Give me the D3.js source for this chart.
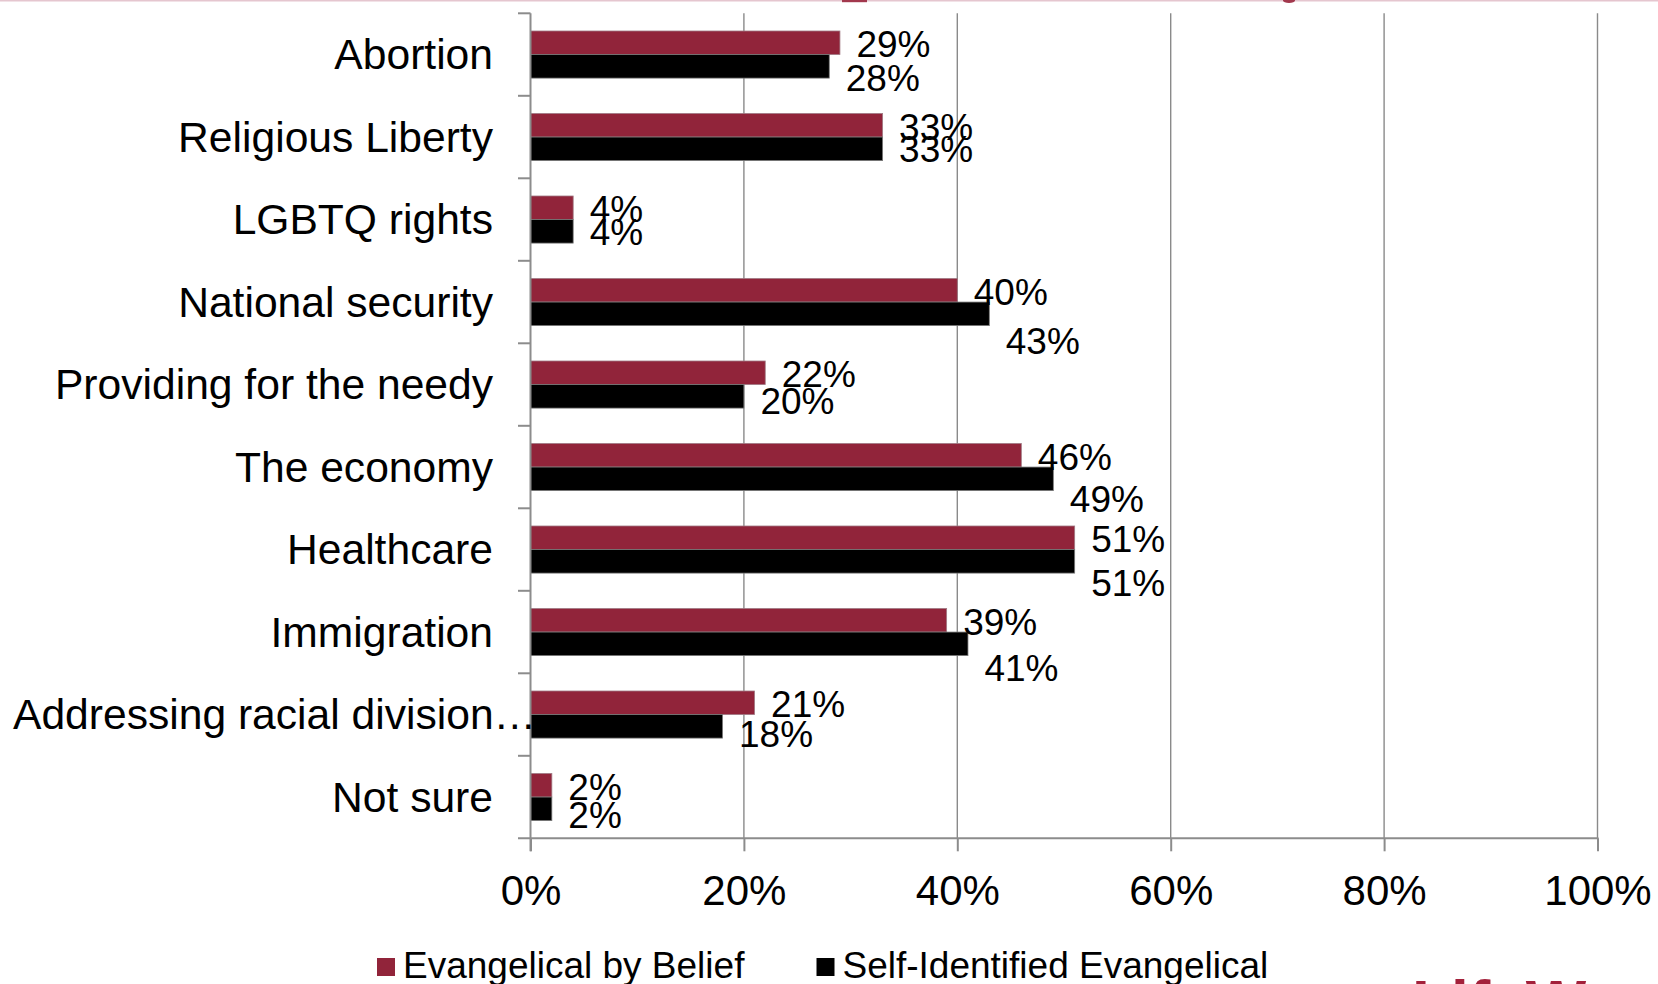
<!DOCTYPE html>
<html>
<head>
<meta charset="utf-8">
<script src="https://cdn.jsdelivr.net/npm/d3@7"></script>
<style>
  html, body { margin: 0; padding: 0; background: #ffffff; }
  svg { display: block; }
  text { font-family: "Liberation Sans", Arial, sans-serif; fill: #000; }
</style>
</head>
<body>
<svg id="chart" width="1658" height="984"></svg>
<script>
// Issue priorities, share of respondents (%)
const categories = [
  "Abortion",
  "Religious Liberty",
  "LGBTQ rights",
  "National security",
  "Providing for the needy",
  "The economy",
  "Healthcare",
  "Immigration",
  "Addressing racial division…",
  "Not sure"
];
const byBelief       = [29, 33, 4, 40, 22, 46, 51, 39, 21, 2];
const selfIdentified = [28, 33, 4, 43, 20, 49, 51, 41, 18, 2];
const seriesNames = ["Evangelical by Belief", "Self-Identified Evangelical"];
const xTicks = [0, 20, 40, 60, 80, 100];

// hand-placed vertical nudges (px) for the second series' value labels
const selfLabelShift = [11, 0, 0, 27, 4, 20, 21, 24, 7, 6];

const W = 1658, H = 984;
const plot = { left: 530.5, right: 1597.5, top: 13.3, bottom: 838.3 };
const colors = ["#91243a", "#000000"];
const gridColor = "#8a8a8a";

const svg = d3.select("#chart");

// banner remnants along the top edge
svg.append("rect").attr("x", 0).attr("y", 0).attr("width", W).attr("height", 1.5)
  .attr("fill", "#e5c6cf");
svg.append("rect").attr("x", 842).attr("y", 0).attr("width", 25).attr("height", 2.2)
  .attr("fill", "#a2384d");
svg.append("ellipse").attr("cx", 1289).attr("cy", 0.5).attr("rx", 6).attr("ry", 2.5)
  .attr("fill", "#a2384d");

const x = d3.scaleLinear().domain([0, 100]).range([plot.left, plot.right]);
const y = d3.scaleBand().domain(categories).range([plot.top, plot.bottom]).padding(0);
const bw = y.bandwidth();
const ySub = d3.scaleBand().domain([0, 1]).range([bw * 0.2145, bw * (1 - 0.2145)]).padding(0);

// vertical gridlines
svg.append("g").selectAll("line")
  .data(xTicks.filter(d => d > 0))
  .join("line")
  .attr("x1", d => x(d)).attr("x2", d => x(d))
  .attr("y1", plot.top).attr("y2", plot.bottom)
  .attr("stroke", gridColor).attr("stroke-width", 1.4);

// bars
const series = [byBelief, selfIdentified];
const bars = svg.append("g");
series.forEach((vals, s) => {
  bars.selectAll(null)
    .data(categories.map((c, i) => ({ c, v: vals[i] })))
    .join("rect")
    .attr("x", x(0))
    .attr("y", d => y(d.c) + ySub(s))
    .attr("width", d => x(d.v) - x(0))
    .attr("height", ySub.bandwidth())
    .attr("fill", colors[s])
    .attr("stroke", s === 0 ? "#a07a84" : "#7a7a7a")
    .attr("stroke-width", 0.8);
});

// value labels
const labels = svg.append("g").attr("font-size", 37);
series.forEach((vals, s) => {
  labels.selectAll(null)
    .data(categories.map((c, i) => ({ c, v: vals[i], i })))
    .join("text")
    .attr("x", d => x(d.v) + 16.5)
    .attr("y", d => y(d.c) + ySub(s) + ySub.bandwidth() / 2 + (s === 1 ? selfLabelShift[d.i] : 1))
    .attr("dy", "0.36em")
    .text(d => d.v + "%");
});

// category axis: spine, boundary ticks, labels
const axisColor = "#8c8c8c";
svg.append("line")
  .attr("x1", x(0)).attr("x2", x(0))
  .attr("y1", plot.top).attr("y2", plot.bottom + 13)
  .attr("stroke", axisColor).attr("stroke-width", 2);
const bounds = categories.map(c => y(c));
svg.append("g").selectAll("line")
  .data(bounds)
  .join("line")
  .attr("x1", x(0) - 12.5).attr("x2", x(0))
  .attr("y1", d => d).attr("y2", d => d)
  .attr("stroke", axisColor).attr("stroke-width", 2);

const catLabels = svg.append("g").attr("font-size", 42.6)
  .selectAll("text")
  .data(categories)
  .join("text")
  .attr("x", 493)
  .attr("y", d => y(d) + bw / 2)
  .attr("dy", "0.35em")
  .attr("text-anchor", "end")
  .text(d => d);
// long labels run from the left margin instead of being clipped
catLabels.each(function () {
  const len = this.getComputedTextLength();
  if (493 - len < 13) {
    d3.select(this).attr("text-anchor", "start").attr("x", 13);
  }
});

// value axis
const xAxis = svg.append("g")
  .attr("transform", `translate(0,${plot.bottom})`)
  .call(d3.axisBottom(x).tickValues(xTicks).tickFormat(d => d + "%").tickSize(13).tickPadding(24));
xAxis.select(".domain").remove();
xAxis.selectAll(".tick line").attr("stroke", axisColor).attr("stroke-width", 2);
xAxis.selectAll(".tick text")
  .attr("font-size", 42)
  .attr("font-family", "'Liberation Sans', Arial, sans-serif")
  .attr("fill", "#000");
svg.append("line")
  .attr("x1", x(0) - 12.5).attr("x2", x(100) + 1)
  .attr("y1", plot.bottom).attr("y2", plot.bottom)
  .attr("stroke", axisColor).attr("stroke-width", 2);

// legend
const legendItems = [
  { name: seriesNames[0], color: colors[0], x: 377 },
  { name: seriesNames[1], color: colors[1], x: 816.5 }
];
const legend = svg.append("g");
legendItems.forEach(it => {
  legend.append("rect")
    .attr("x", it.x).attr("y", 958).attr("width", 18).attr("height", 18)
    .attr("fill", it.color);
  legend.append("text")
    .attr("x", it.x + 26).attr("y", 978)
    .attr("font-size", 37)
    .text(it.name);
});

// publisher mark at the lower right edge
svg.append("text")
  .attr("x", 1412).attr("y", 1026)
  .attr("font-family", "'Liberation Serif', 'DejaVu Serif', serif")
  .attr("font-size", 64)
  .attr("font-weight", "bold")
  .style("fill", "#a3213b")
  .text("LifeWay");
</script>
</body>
</html>
